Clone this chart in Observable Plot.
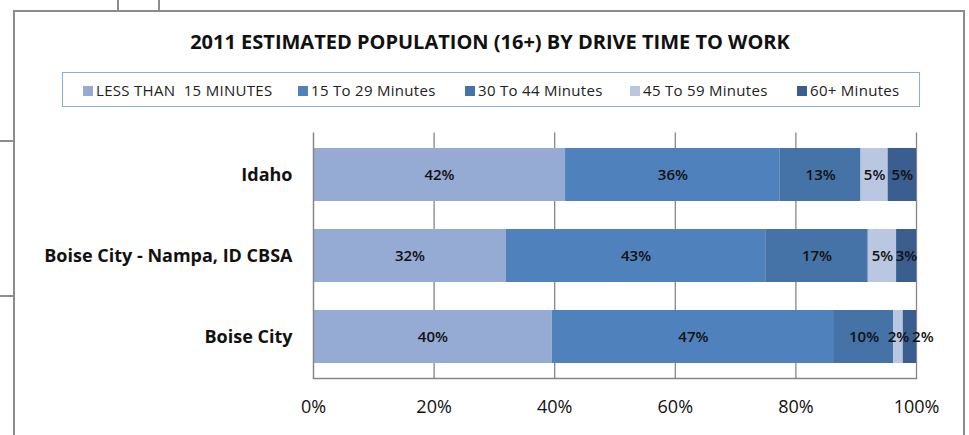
<!DOCTYPE html>
<html>
<head>
<meta charset="utf-8">
<script src="https://cdn.jsdelivr.net/npm/d3@7"></script>
<script src="https://cdn.jsdelivr.net/npm/@observablehq/plot@0.6"></script>
<style>
  html, body { margin: 0; padding: 0; background: #fff; }
  #wrap { position: relative; width: 969px; height: 435px; overflow: hidden; background: #fff;
          font-family: "Open Sans", Lato, sans-serif; }
  .ln { position: absolute; background: #8c8c8c; }
  #title { position: absolute; left: 0; width: 980px; top: 29px; text-align: center;
           font-weight: bold; font-size: 20px; color: #111; line-height: 26px; }
  #legend { position: absolute; left: 62px; top: 72px; width: 856px; height: 33px;
            border: 1.5px solid #8eaad6; box-sizing: content-box; }
  .item { position: absolute; top: 7px; font-size: 15px; color: #222; white-space: pre; line-height: 20px; letter-spacing: 0.3px; }
  .sw { display: inline-block; width: 10px; height: 10px; margin-right: 3px; vertical-align: 0px; }
  #plot { position: absolute; left: 0; top: 110px; }
</style>
</head>
<body>
<div id="wrap">
  <div class="ln" style="left:13px;top:10px;width:1.5px;height:425px"></div>
  <div class="ln" style="left:13px;top:10px;width:951px;height:1.5px"></div>
  <div class="ln" style="left:963px;top:10px;width:1.5px;height:425px"></div>
  <div class="ln" style="left:117px;top:0px;width:1.5px;height:10px"></div>
  <div class="ln" style="left:158px;top:0px;width:1.5px;height:10px"></div>
  <div class="ln" style="left:0px;top:140px;width:13px;height:1.5px"></div>
  <div class="ln" style="left:0px;top:295px;width:13px;height:1.5px"></div>
  <div id="title"></div>
  <div id="legend"></div>
  <div id="plot"></div>
</div>
<script>
const title = "2011 ESTIMATED POPULATION (16+) BY DRIVE TIME TO WORK";
const categories = ["Idaho", "Boise City - Nampa, ID CBSA", "Boise City"];
const series = ["LESS THAN  15 MINUTES", "15 To 29 Minutes", "30 To 44 Minutes", "45 To 59 Minutes", "60+ Minutes"];
const colors = ["#95abd3", "#4f81bd", "#4572a7", "#b9c7e1", "#3a5e8f"];
// percent values per category, in series order
const idaho = [41.8, 35.6, 13.4, 4.5, 4.7];
const boiseNampa = [32.0, 43.0, 17.0, 4.7, 3.3];
const boiseCity = [39.6, 46.8, 9.8, 1.6, 2.2];
const xTicks = [0, 20, 40, 60, 80, 100];

const rows = [idaho, boiseNampa, boiseCity];
const data = [];
categories.forEach((c, i) => series.forEach((s, j) => data.push({cat: c, series: s, value: rows[i][j]})));

document.getElementById("title").textContent = title;
const legend = document.getElementById("legend");
const legendX = [20, 235, 402, 567, 734];
series.forEach((s, j) => {
  const d = document.createElement("div");
  d.className = "item";
  d.style.left = legendX[j] + "px";
  const sw = document.createElement("span");
  sw.className = "sw"; sw.style.background = colors[j];
  d.appendChild(sw);
  d.appendChild(document.createTextNode(s));
  legend.appendChild(d);
});

// the last tiny segment label of "Boise City" is nudged right, as in the reference
const shifted = d => d.cat === "Boise City" && d.series === series[4];
const pct = d => Math.round(d.value) + "%";
const fontFam = "'Open Sans', Lato, sans-serif";
const chart = Plot.plot({
  width: 969,
  height: 325,
  marginLeft: 313,
  marginRight: 53,
  marginTop: 22.5,
  marginBottom: 57,
  style: {fontFamily: fontFam, background: "transparent"},
  x: {domain: [0, 100]},
  y: {domain: categories, paddingInner: 0.35, paddingOuter: 0.175},
  color: {domain: series, range: colors},
  marks: [
    Plot.gridX(xTicks.slice(1), {stroke: "#868686", strokeOpacity: 1, strokeWidth: 1.3}),
    Plot.barX(data, {x: "value", y: "cat", fill: "series"}),
    Plot.ruleX([0], {stroke: "#868686", strokeWidth: 1.5}),
    Plot.frame({anchor: "bottom", stroke: "#868686", strokeWidth: 1.5}),
    Plot.text(data, Plot.stackX({x: "value", y: "cat", text: d => shifted(d) ? "" : pct(d),
      fill: "#111", fontSize: 15, fontWeight: 600, style: {letterSpacing: "0.8px"}})),
    Plot.text(data, Plot.stackX({x: "value", y: "cat", text: d => shifted(d) ? pct(d) : "",
      fill: "#111", fontSize: 15, fontWeight: 600, dx: 13, style: {letterSpacing: "0.8px"}})),
    Plot.axisX(xTicks, {tickSize: 0, tickPadding: 22, tickFormat: d => d + "%", fontSize: 18, fill: "#111", label: null,
      style: {letterSpacing: "1.5px"}}),
    Plot.axisY({tickSize: 0, tickPadding: 21, fontSize: 18, fontWeight: "bold", fill: "#111", label: null,
      style: {letterSpacing: "1.4px"}})
  ]
});
document.getElementById("plot").appendChild(chart);
</script>
</body>
</html>
